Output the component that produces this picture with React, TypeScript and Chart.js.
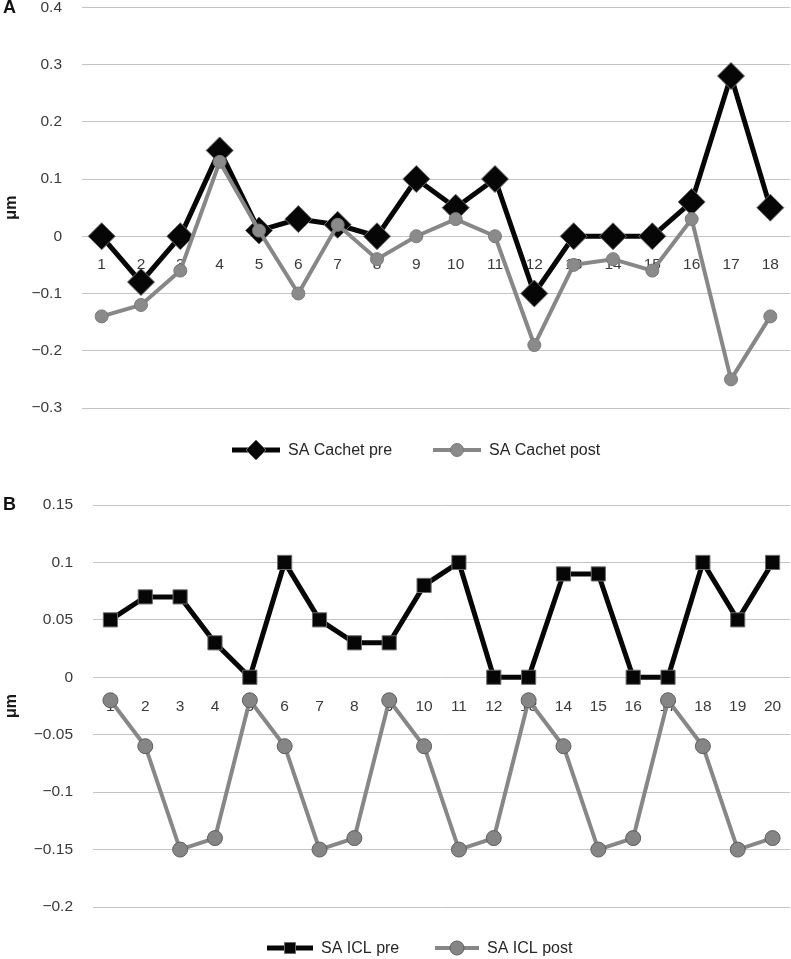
import React, { useEffect, useRef } from 'react';
import { Chart, registerables } from 'chart.js';

Chart.register(...registerables);
Chart.defaults.font.family = '"Liberation Sans", Arial, sans-serif';

// ---------- Data ----------
const cachetCategories = ['1', '2', '3', '4', '5', '6', '7', '8', '9', '10', '11', '12', '13', '14', '15', '16', '17', '18'];
const cachetPre = [0, -0.08, 0, 0.15, 0.01, 0.03, 0.02, 0, 0.1, 0.05, 0.1, -0.1, 0, 0, 0, 0.06, 0.28, 0.05];
const cachetPost = [-0.14, -0.12, -0.06, 0.13, 0.01, -0.1, 0.02, -0.04, 0, 0.03, 0, -0.19, -0.05, -0.04, -0.06, 0.03, -0.25, -0.14];

const iclCategories = ['1', '2', '3', '4', '5', '6', '7', '8', '9', '10', '11', '12', '13', '14', '15', '16', '17', '18', '19', '20'];
const iclPre = [0.05, 0.07, 0.07, 0.03, 0, 0.1, 0.05, 0.03, 0.03, 0.08, 0.1, 0, 0, 0.09, 0.09, 0, 0, 0.1, 0.05, 0.1];
const iclPost = [-0.02, -0.06, -0.15, -0.14, -0.02, -0.06, -0.15, -0.14, -0.02, -0.06, -0.15, -0.14, -0.02, -0.06, -0.15, -0.14, -0.02, -0.06, -0.15, -0.14];

const cachetLabels = ['SA Cachet pre', 'SA Cachet post'];
const iclLabels = ['SA ICL pre', 'SA ICL post'];

// ---------- Helpers ----------
const fmt = (v: number) => {
  const n = Number(Number(v).toFixed(2));
  if (n === 0) return '0';
  return n < 0 ? '\u2212' + String(-n) : String(n);
};

const BLACK = '#060606';
const GRAY = '#878787';

function drawShape(ctx: CanvasRenderingContext2D, kind: string, x: number, y: number, r: number, fill: string, stroke: string) {
  ctx.save();
  ctx.beginPath();
  if (kind === 'diamond') {
    ctx.moveTo(x, y - r);
    ctx.lineTo(x + r, y);
    ctx.lineTo(x, y + r);
    ctx.lineTo(x - r, y);
    ctx.closePath();
  } else if (kind === 'square') {
    ctx.rect(x - r, y - r, 2 * r, 2 * r);
  } else {
    ctx.arc(x, y, r, 0, Math.PI * 2);
  }
  ctx.fillStyle = fill;
  ctx.fill();
  ctx.lineWidth = 1;
  ctx.strokeStyle = stroke;
  ctx.stroke();
  ctx.restore();
}

const customLegend = {
  id: 'customLegend',
  afterDraw(chart: any, _args: any, opts: any) {
    if (!opts || !opts.items) return;
    const ctx = chart.ctx as CanvasRenderingContext2D;
    const y = opts.y;
    opts.items.forEach((it: any) => {
      ctx.save();
      ctx.strokeStyle = it.color;
      ctx.lineWidth = it.lineWidth;
      ctx.beginPath();
      ctx.moveTo(it.x, y);
      ctx.lineTo(it.x + it.len, y);
      ctx.stroke();
      ctx.restore();
      drawShape(ctx, it.kind, it.x + it.len / 2, y, it.r, it.fill, it.stroke);
      ctx.save();
      ctx.fillStyle = '#262626';
      ctx.font = '16px "Liberation Sans", Arial, sans-serif';
      ctx.textBaseline = 'middle';
      ctx.textAlign = 'left';
      ctx.fillText(it.label, it.x + it.len + 8, y + 1);
      ctx.restore();
    });
  },
};

const panelLabel = {
  id: 'panelLabel',
  afterDraw(chart: any, _args: any, opts: any) {
    if (!opts || !opts.text) return;
    const ctx = chart.ctx as CanvasRenderingContext2D;
    ctx.save();
    ctx.fillStyle = '#111';
    ctx.font = 'bold 18px "Liberation Sans", Arial, sans-serif';
    ctx.textBaseline = 'middle';
    ctx.textAlign = 'left';
    ctx.fillText(opts.text, opts.x, opts.y);
    ctx.restore();
  },
};

function makeOptions(p: any) {
  return {
    responsive: false,
    animation: false,
    layout: { autoPadding: false, padding: { top: p.padTop, bottom: p.padBottom, left: 0, right: 1 } },
    plugins: {
      legend: { display: false },
      tooltip: { enabled: false },
      customLegend: { y: p.legendY, items: p.legendItems },
      panelLabel: { text: p.panel, x: 3, y: p.panelY },
    },
    scales: {
      x: {
        type: 'category',
        offset: true,
        position: { y: 0 },
        afterFit: (s: any) => { s.paddingLeft = 0; s.paddingRight = 0; },
        grid: { display: false, drawTicks: false },
        border: { display: false },
        ticks: { color: '#3a3a3a', font: { size: 15.5 }, padding: p.xPad, maxRotation: 0, autoSkip: false },
      },
      y: {
        min: p.min,
        max: p.max,
        afterFit: (s: any) => { s.width = p.yWidth; },
        grid: { color: '#c4c4c4', lineWidth: 1, drawTicks: false },
        border: { display: false },
        ticks: { stepSize: p.step, color: '#3a3a3a', font: { size: 15.5 }, padding: 20, callback: (v: any) => fmt(v) },
        title: { display: true, text: 'μm', color: '#1a1a1a', font: { size: 16, weight: 'bold' }, padding: { top: 2, bottom: 0 } },
      },
    },
  };
}

function LineChart({ config, style, width, height }: any) {
  const ref = useRef<HTMLCanvasElement | null>(null);
  useEffect(() => {
    if (!ref.current) return;
    const chart = new Chart(ref.current, config);
    return () => chart.destroy();
  }, []);
  return <canvas ref={ref} width={width} height={height} style={{ position: 'absolute', display: 'block', width, height, ...style }} />;
}

export default function App() {
  const configA: any = {
    type: 'line',
    data: {
      labels: cachetCategories,
      datasets: [
        {
          label: cachetLabels[0],
          data: cachetPre,
          order: 2,
          borderColor: BLACK,
          borderWidth: 5,
          pointStyle: 'rectRot',
          pointRadius: 13.5,
          pointBackgroundColor: BLACK,
          pointBorderColor: '#6a6a6a',
          pointBorderWidth: 1,
          tension: 0,
        },
        {
          label: cachetLabels[1],
          data: cachetPost,
          order: 1,
          borderColor: GRAY,
          borderWidth: 4,
          pointStyle: 'circle',
          pointRadius: 6.5,
          pointBackgroundColor: '#8a8a8a',
          pointBorderColor: '#7a7a7a',
          pointBorderWidth: 1,
          tension: 0,
        },
      ],
    },
    options: makeOptions({
      padTop: 29, padBottom: 52, min: -0.3, max: 0.4, step: 0.1, yWidth: 82, xPad: 19,
      legendY: 472, panel: 'A', panelY: 30,
      legendItems: [
        { x: 232, len: 48, label: cachetLabels[0], kind: 'diamond', r: 10, color: BLACK, lineWidth: 5, fill: BLACK, stroke: '#6a6a6a' },
        { x: 433, len: 48, label: cachetLabels[1], kind: 'circle', r: 6.5, color: GRAY, lineWidth: 4, fill: '#8a8a8a', stroke: '#7a7a7a' },
      ],
    }),
    plugins: [customLegend, panelLabel],
  };

  const configB: any = {
    type: 'line',
    data: {
      labels: iclCategories,
      datasets: [
        {
          label: iclLabels[0],
          data: iclPre,
          order: 2,
          borderColor: BLACK,
          borderWidth: 5,
          pointStyle: 'rect',
          pointRadius: 10,
          pointBackgroundColor: BLACK,
          pointBorderColor: '#6a6a6a',
          pointBorderWidth: 1,
          tension: 0,
        },
        {
          label: iclLabels[1],
          data: iclPost,
          order: 1,
          borderColor: GRAY,
          borderWidth: 4,
          pointStyle: 'circle',
          pointRadius: 7.5,
          pointBackgroundColor: '#858585',
          pointBorderColor: '#5e5e5e',
          pointBorderWidth: 1,
          tension: 0,
        },
      ],
    },
    options: makeOptions({
      padTop: 45, padBottom: 52, min: -0.2, max: 0.15, step: 0.05, yWidth: 93, xPad: 20,
      legendY: 488, panel: 'B', panelY: 45,
      legendItems: [
        { x: 267, len: 46, label: iclLabels[0], kind: 'square', r: 5.5, color: BLACK, lineWidth: 5, fill: BLACK, stroke: '#6a6a6a' },
        { x: 435, len: 44, label: iclLabels[1], kind: 'circle', r: 7, color: GRAY, lineWidth: 4, fill: '#858585', stroke: '#5e5e5e' },
      ],
    }),
    plugins: [customLegend, panelLabel],
  };

  return (
    <div style={{ position: 'absolute', left: 0, top: 0, width: 791, height: 959, background: '#fff', overflow: 'hidden' }}>
      <LineChart config={configA} width={791} height={482} style={{ left: 0, top: -22 }} />
      <LineChart config={configB} width={791} height={499} style={{ left: 0, top: 460 }} />
    </div>
  );
}
